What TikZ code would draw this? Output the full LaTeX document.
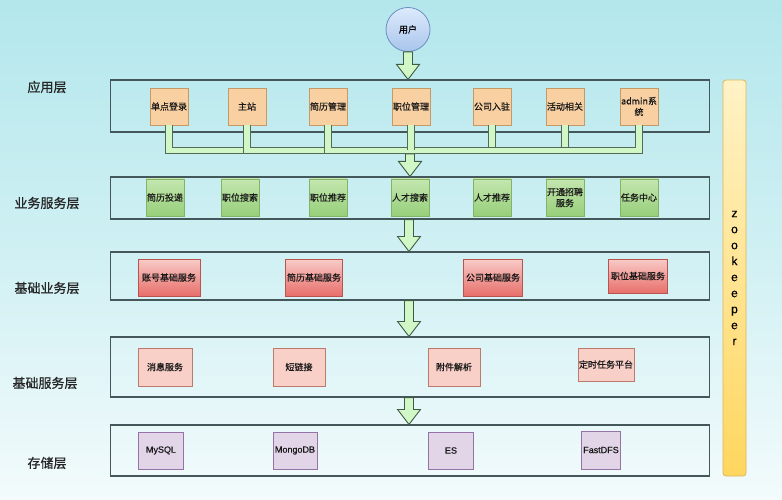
\documentclass[tikz,border=0pt]{standalone}
\usepackage{fontspec}
\setmainfont{Noto Sans CJK SC}
\newfontfamily\semifont[FakeBold=0.9]{Noto Sans CJK SC}
\newfontfamily\itemfont[FakeBold=0.5]{Noto Sans CJK SC}
\newfontfamily\latfont[FakeBold=0.4]{Liberation Sans}
\usetikzlibrary{calc}
\definecolor{bgtop}{HTML}{B3E7EC}
\definecolor{bgbot}{HTML}{F3FBFC}
\definecolor{layerc}{HTML}{44575A}
\definecolor{orfill}{HTML}{F9D0A2}
\definecolor{ordraw}{HTML}{C49A66}
\definecolor{grtop}{HTML}{C4E6AF}
\definecolor{grbot}{HTML}{97CF7A}
\definecolor{grdraw}{HTML}{82B366}
\definecolor{rdtop}{HTML}{F8CBC8}
\definecolor{rdbot}{HTML}{E86F6A}
\definecolor{rddraw}{HTML}{B85450}
\definecolor{pkfill}{HTML}{F8D0C8}
\definecolor{pkdraw}{HTML}{BC7A6C}
\definecolor{pufill}{HTML}{E1D5E7}
\definecolor{pudraw}{HTML}{9673A6}
\definecolor{arrfill}{HTML}{D2F7C6}
\definecolor{arrdraw}{HTML}{3F5A45}
\definecolor{zktop}{HTML}{FFF2C6}
\definecolor{zkbot}{HTML}{FFD65E}
\definecolor{zkdraw}{HTML}{D9B75C}
\definecolor{ustop}{HTML}{DDEBFC}
\definecolor{usbot}{HTML}{A9C5EC}
\definecolor{usdraw}{HTML}{6C8EBF}
\tikzset{
  layer/.style={draw=layerc, line width=1.1pt, minimum width=599pt, inner sep=0pt},
  item/.style={line width=0.8pt, inner sep=1pt, align=center, font=\itemfont\fontsize{9}{11}\selectfont, text=black!90},
  oritem/.style={item, draw=ordraw, fill=orfill, minimum width=38pt, minimum height=37pt},
  gritem/.style={item, draw=grdraw, top color=grtop, bottom color=grbot, minimum width=37pt, minimum height=37pt},
  rditem/.style={item, draw=rddraw, top color=rdtop, bottom color=rdbot, minimum height=37pt},
  pkitem/.style={item, draw=pkdraw, fill=pkfill, minimum height=38pt},
  puitem/.style={item, draw=pudraw, fill=pufill, minimum height=37pt, font=\latfont\fontsize{9}{11}\selectfont},
  lbl/.style={font=\semifont\fontsize{13}{15}\selectfont, text=black!85},
  pipe/.style={draw=arrdraw!90, line width=0.9pt, double=arrfill, double distance=5.5pt},
  barrow/.style={draw=arrdraw, fill=arrfill, line width=0.9pt, line join=miter},
}
\newcommand\blockarr[2]{%
  \draw[barrow] let \p1=(#1), \p2=(#2) in
    (\x1-4.5pt,\y1) -- (\x1-4.5pt,\y2+15pt) -- (\x1-11.5pt,\y2+15pt) -- (\x1,\y2)
    -- (\x1+11.5pt,\y2+15pt) -- (\x1+4.5pt,\y2+15pt) -- (\x1+4.5pt,\y1) -- cycle;}
\begin{document}
\begin{tikzpicture}[x=1pt,y=-1pt]
\useasboundingbox (0,0) rectangle (782,500);
\shade[top color=bgtop, bottom color=bgbot, middle color=bgtop!55!bgbot] (0,0) rectangle (782,500);

% zookeeper bar
\node[draw=zkdraw, line width=0.8pt, rounded corners=3pt, top color=zktop, bottom color=zkbot,
      minimum width=23pt, minimum height=396pt, inner sep=0pt] (zk) at (734.5,278) {};
\node[font=\latfont\fontsize{12}{16}\selectfont, align=center, inner sep=0pt] (zkt) at (734.5,278) {z\\o\\o\\k\\e\\e\\p\\e\\r};

% labels
\node[lbl] (t1) at (47,87) {应用层};
\node[lbl] (t2) at (47,203) {业务服务层};
\node[lbl] (t3) at (47,288) {基础业务层};
\node[lbl] (t4) at (45,383) {基础服务层};
\node[lbl] (t5) at (47,463) {存储层};

% layer boxes
\node[layer, minimum height=52pt] (L1) at (410,106) {};
\node[layer, minimum height=42pt] (L2) at (410,198) {};
\node[layer, minimum height=48pt] (L3) at (410,276) {};
\node[layer, minimum height=60pt] (L4) at (410,367) {};
\node[layer, minimum height=51pt] (L5) at (410,450.5) {};

% user
\node[circle, draw=usdraw, line width=0.8pt, top color=ustop, bottom color=usbot,
      minimum size=44pt, inner sep=0pt, font=\itemfont\fontsize{9}{11}\selectfont] (user) at (408,29.5) {用户};

% application layer
\node[oritem] (a1) at (169,106.5) {单点登录};
\node[oritem] (a2) at (247,106.5) {主站};
\node[oritem] (a3) at (328,106.5) {简历管理};
\node[oritem] (a4) at (411,106.5) {职位管理};
\node[oritem] (a5) at (492,106.5) {公司入驻};
\node[oritem] (a6) at (565,106.5) {活动相关};
\node[oritem] (a7) at (639,106.5) {admin系\\统};

% business service layer
\node[gritem] (b1) at (165,197.5) {简历投递};
\node[gritem] (b2) at (240,197.5) {职位搜索};
\node[gritem] (b3) at (328,197.5) {职位推荐};
\node[gritem] (b4) at (410,197.5) {人才搜索};
\node[gritem] (b5) at (492,197.5) {人才推荐};
\node[gritem] (b6) at (565,197.5) {开通招聘\\服务};
\node[gritem] (b7) at (639,197.5) {任务中心};

% basic business layer
\node[rditem, minimum width=62pt] (c1) at (169,277.5) {账号基础服务};
\node[rditem, minimum width=57pt] (c2) at (314,277.5) {简历基础服务};
\node[rditem, minimum width=59pt] (c3) at (493,277.5) {公司基础服务};
\node[rditem, minimum width=59pt, minimum height=34pt] (c4) at (638,276) {职位基础服务};

% basic service layer
\node[pkitem, minimum width=54pt] (d1) at (165,367) {消息服务};
\node[pkitem, minimum width=52pt] (d2) at (299,367) {短链接};
\node[pkitem, minimum width=52pt] (d3) at (454,367) {附件解析};
\node[pkitem, minimum width=56pt, minimum height=33pt] (d4) at (606,364.5) {定时任务平台};

% storage layer
\node[puitem, minimum width=45pt] (e1) at (161,450.5) {MySQL};
\node[puitem, minimum width=44pt] (e2) at (295,450.5) {MongoDB};
\node[puitem, minimum width=45pt] (e3) at (451,450.5) {ES};
\node[puitem, minimum width=39pt, minimum height=38pt] (e4) at (601,450) {FastDFS};

% pipes
\coordinate (J) at (410,150.5);
\coordinate (Jb) at (410,154);
\foreach \n in {a1,a2,a3,a5,a6,a7}{\draw[pipe] (\n.south) |- (J);}
\draw[pipe] (a4.south) -- (a4.south |- J);

% block arrows
\blockarr{user.south}{L1.north -| user.south}
\blockarr{Jb}{L2.north -| Jb}
\coordinate (k2) at (L2.south -| 409,0);
\coordinate (k3) at (L3.south -| 409,0);
\coordinate (k4) at (L4.south -| 409,0);
\blockarr{k2}{L3.north -| k2}
\blockarr{k3}{L4.north -| k3}
\blockarr{k4}{L5.north -| k4}
\end{tikzpicture}
\end{document}
